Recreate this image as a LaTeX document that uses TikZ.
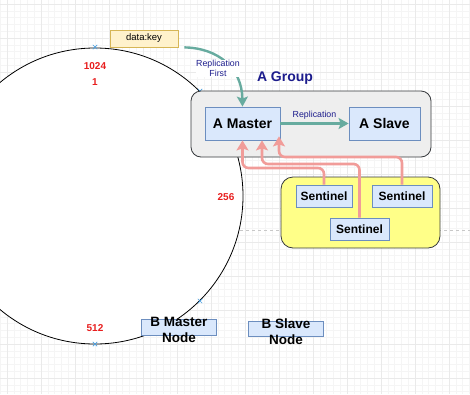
\documentclass[tikz,border=0pt]{standalone}
\usepackage{fontspec}
\setmainfont{Liberation Sans}
\usetikzlibrary{arrows.meta}
\definecolor{gridminor}{HTML}{F5F5F5}
\definecolor{gridmajor}{HTML}{EAEAEA}
\definecolor{tealc}{HTML}{67AB9F}
\definecolor{pinkc}{HTML}{F19C99}
\definecolor{bluefill}{HTML}{DAE8FC}
\definecolor{bluedraw}{HTML}{6C8EBF}
\definecolor{grpfill}{HTML}{EEEEEE}
\definecolor{darkedge}{HTML}{36393D}
\definecolor{yelfill}{HTML}{FFFF88}
\definecolor{keyfill}{HTML}{FFF2CC}
\definecolor{keydraw}{HTML}{D6B656}
\definecolor{navytext}{HTML}{1C1C8C}
\definecolor{redtext}{HTML}{E81E1E}
\definecolor{crossc}{HTML}{4A9FE0}
\definecolor{dashc}{HTML}{C8C8C8}
\tikzset{
  gminor/.style={draw=gridminor, line width=0.5pt},
  gmajor/.style={draw=gridmajor, line width=0.6pt},
  bluebox/.style={draw=bluedraw, fill=bluefill, line width=0.8pt, inner sep=0pt, font=\fontsize{14}{16}\selectfont\bfseries},
  sentbox/.style={draw=bluedraw, fill=bluefill, line width=0.8pt, inner sep=0pt, minimum height=22pt, font=\fontsize{12}{14}\selectfont\bfseries},
  numlbl/.style={text=redtext, font=\fontsize{10}{12}\selectfont\bfseries, inner sep=0pt},
  smalllbl/.style={text=navytext, font=\fontsize{8.8}{9.8}\selectfont, align=center, inner sep=0.5pt},
  tealarrow/.style={draw=tealc, line width=2.4pt, -{Stealth[length=10pt,width=11pt,inset=2pt]}},
  pinkarrow/.style={draw=pinkc, line width=2.6pt, rounded corners=6pt, -{Stealth[length=10pt,width=12pt,inset=2pt]}},
  crossmark/.style={draw=crossc, line width=0.7pt},
  btext/.style={font=\fontsize{13.5}{16}\selectfont\bfseries, align=center, inner sep=0pt},
}
\begin{document}
\begin{tikzpicture}[x=1pt,y=-1pt]
\useasboundingbox (0,0) rectangle (470,394);
\begin{scope}
\clip (0,0) rectangle (470,394);
\fill[white] (0,0) rectangle (470,394);
\foreach \k in {0,...,69} {\draw[gminor] ({0.2+6.8*\k},0) -- ({0.2+6.8*\k},394);}
\foreach \k in {0,...,58} {\draw[gminor] (0,{-2.8+6.8*\k}) -- (470,{-2.8+6.8*\k});}
\foreach \k in {0,...,13} {\draw[gmajor] ({7+34*\k},0) -- ({7+34*\k},394);}
\foreach \k in {0,...,11} {\draw[gmajor] (0,{4+34*\k}) -- (470,{4+34*\k});}
\draw[dashc, dashed, line width=0.8pt] (240,230.5) -- (470,230.5);
\draw[black, fill=white, line width=0.8pt] (95,196) circle[radius=148];
\end{scope}

% cross markers on the ring
\foreach \p/\q in {95/47, 200/91, 200/301, 95/344} {
  \draw[crossmark] (\p-2.2,\q-2.2) -- (\p+2.2,\q+2.2) (\p-2.2,\q+2.2) -- (\p+2.2,\q-2.2);
}

% ring labels
\node[numlbl] (n1024) at (95,66) {1024};
\node[numlbl] (n1) at (95,82) {1};
\node[numlbl] (n256) at (226,197) {256};
\node[numlbl] (n512) at (95,328) {512};

% data key
\node[draw=keydraw, fill=keyfill, line width=0.8pt, minimum width=68pt, minimum height=17pt, inner sep=0pt, font=\fontsize{9.5}{11}\selectfont] (dk) at (144,38.5) {data:key};

% A group
\node[draw=darkedge, fill=grpfill, line width=0.8pt, rounded corners=10pt, minimum width=240pt, minimum height=66pt, inner sep=0pt] (agrp) at (311,124) {};
\node[text=navytext, font=\fontsize{14}{16}\selectfont\bfseries, inner sep=0pt] (agrplbl) at (285,78) {A Group};
\node[bluebox, minimum width=75pt, minimum height=33pt] (amaster) at (242.5,123.5) {A Master};
\node[bluebox, minimum width=71pt, minimum height=33pt] (aslave) at (384.5,123.5) {A Slave};

% sentinel group
\node[draw=darkedge, fill=yelfill, line width=0.8pt, rounded corners=12pt, minimum width=159pt, minimum height=71pt, inner sep=0pt] (sgrp) at (360.5,212.5) {};
\node[sentbox, minimum width=56pt] (s1) at (324,196) {Sentinel};
\node[sentbox, minimum width=60pt] (s2) at (402,196) {Sentinel};
\node[sentbox, minimum width=59pt] (s3) at (359.5,229) {Sentinel};

% replication arrows
\draw[tealarrow] (amaster.east) -- node[smalllbl, above=2.5pt] (replbl) {Replication} (aslave.west);
\draw[tealarrow] ([xshift=6pt]dk.south east) .. controls (218,48) and (242,68) .. (amaster.north);
\node[smalllbl, fill=white] (rflbl) at (218,68.5) {Replication\\First};

% sentinel arrows
\draw[pinkarrow] (s1.north) -- (324,168) -| (amaster.south);
\draw[pinkarrow] (s3.north) -- (359.5,164) -| ([xshift=19.5pt]amaster.south);
\draw[pinkarrow] (s2.north) -- (402,157) -| ([xshift=36.5pt,yshift=4pt]amaster.south);

% B nodes
\node[draw=bluedraw, fill=bluefill, line width=0.8pt, minimum width=75pt, minimum height=16pt, inner sep=0pt] (bmaster) at (178.5,327) {};
\node[btext] (bmastert) at (179,330) {B Master\\Node};
\node[draw=bluedraw, fill=bluefill, line width=0.8pt, minimum width=75pt, minimum height=15pt, inner sep=0pt] (bslave) at (285.5,328.5) {};
\node[btext] (bslavet) at (286,332) {B Slave\\Node};
\end{tikzpicture}
\end{document}
